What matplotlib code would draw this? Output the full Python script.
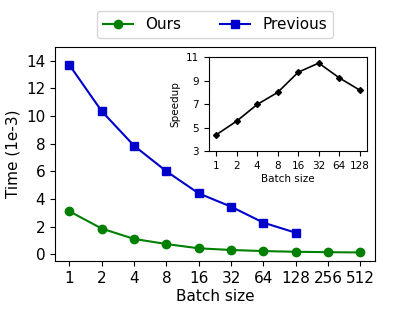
import matplotlib
matplotlib.use("Agg")
import matplotlib.pyplot as plt

batch_labels = ["1", "2", "4", "8", "16", "32", "64", "128", "256", "512"]
ours = [3.1, 1.85, 1.1, 0.73, 0.42, 0.30, 0.22, 0.17, 0.14, 0.12]
previous = [13.7, 10.35, 7.85, 6.0, 4.4, 3.44, 2.28, 1.55]
speedup_labels = ["1", "2", "4", "8", "16", "32", "64", "128"]
speedup = [4.38, 5.55, 6.97, 8.0, 9.72, 10.5, 9.24, 8.19]

fig = plt.figure(figsize=(3.95, 3.16), dpi=100)
ax = fig.add_axes([0.139, 0.174, 0.81, 0.677])
x = list(range(len(batch_labels)))
ax.plot(x, ours, color="green", marker="o", markersize=6, linewidth=1.5, label="Ours")
ax.plot(x[:len(previous)], previous, color="mediumblue", marker="s", markersize=6, linewidth=1.5, label="Previous")
ax.set_xticks(x)
ax.set_xticklabels(batch_labels)
ax.set_ylim(-0.5, 15)
ax.set_yticks([0, 2, 4, 6, 8, 10, 12, 14])
ax.tick_params(labelsize=11)
ax.set_xlabel("Batch size", fontsize=11, labelpad=2)
ax.set_ylabel("Time (1e-3)", fontsize=11)
ax.legend(loc="lower center", bbox_to_anchor=(0.5, 1.02), ncol=2, fontsize=11,
          borderaxespad=0.3, columnspacing=2.5)

ins = fig.add_axes([0.529, 0.522, 0.4, 0.297])
xi = list(range(len(speedup_labels)))
ins.plot(xi, speedup, color="black", marker="D", markersize=3, linewidth=1.2)
ins.set_xticks(xi)
ins.set_xticklabels(speedup_labels)
ins.set_ylim(3, 11)
ins.set_yticks([3, 5, 7, 9, 11])
ins.tick_params(labelsize=7.5)
ins.set_xlabel("Batch size", fontsize=7.5, labelpad=2)
ins.set_ylabel("Speedup", fontsize=7.5)

fig.savefig("out.png", dpi=100)
